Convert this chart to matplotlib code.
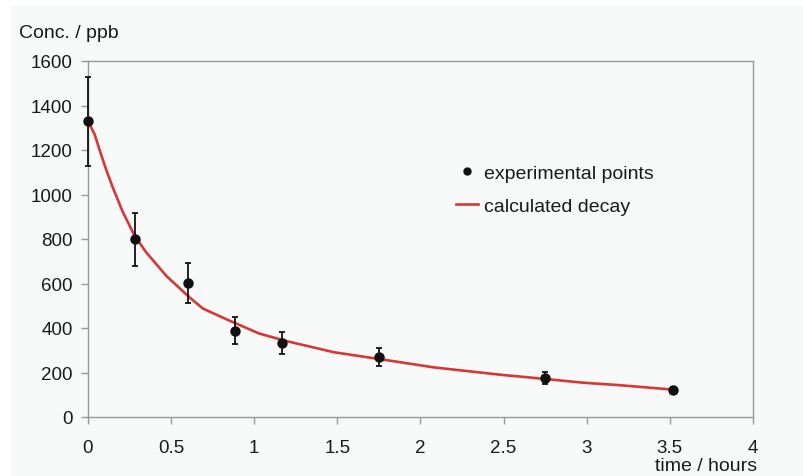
import numpy as np
import matplotlib.pyplot as plt
from matplotlib.patches import Rectangle

plt.rcParams['font.family'] = ['Liberation Sans', 'DejaVu Sans']

# measured points (time in hours, concentration in ppb)
t_exp = [0.0, 0.285, 0.60, 0.885, 1.165, 1.75, 2.75, 3.52]
c_exp = [1330, 798, 601, 388, 331, 268, 175, 121]
c_err = [200, 120, 90, 60, 50, 40, 27, 12]

# calculated decay curve
t_calc = [0.0, 0.04, 0.07, 0.11, 0.15, 0.21, 0.28, 0.35, 0.47, 0.61, 0.69, 0.83, 1.03,
          1.2, 1.48, 1.88, 2.08, 2.48, 2.75, 2.98, 3.18, 3.52]
c_calc = [1330, 1270, 1200, 1110, 1030, 920, 815, 740, 635, 538, 488, 440, 375,
          340, 291, 246, 223, 190, 171, 154, 144, 123]

bg = '#f8fafa'
axcol = '#999999'
txtcol = '#1a1a1a'
fs = 14

fig = plt.figure(figsize=(8.04, 4.77), dpi=100)
fig.patches.append(Rectangle((11/804, 0), 1, 1 - 7/477, transform=fig.transFigure,
                             facecolor=bg, edgecolor='none', zorder=-10))
ax = fig.add_axes([88/804, 59/477, 665/804, 356/477])
ax.set_facecolor(bg)

ax.plot(t_calc, c_calc, color='#d63838', lw=1.9, label='calculated decay', zorder=2)
markers, caps, bars = ax.errorbar(t_exp, c_exp, yerr=c_err, fmt='o', color='#111111',
                                  ms=6.5, elinewidth=1.3, capsize=2.5, capthick=1.3, zorder=3)
for art in [markers, *caps, *bars]:
    art.set_clip_on(False)
ax.plot([], [], 'o', color='#111111', ms=5, label='experimental points')

ax.set_xlim(0, 4)
ax.set_ylim(0, 1600)
ax.set_xticks(np.arange(0, 4.01, 0.5))
ax.set_xticklabels(['0', '0.5', '1', '1.5', '2', '2.5', '3', '3.5', '4'])
ax.set_yticks(np.arange(0, 1601, 200))

for s in ax.spines.values():
    s.set_color(axcol)
    s.set_linewidth(1.0)
ax.tick_params(axis='both', colors=axcol, labelcolor=txtcol, labelsize=13.5,
               length=5, width=1.0, direction='out')
ax.tick_params(axis='x', pad=11)
ax.tick_params(axis='y', pad=6)

fig.text(19/804, 1 - 33/477, 'Conc. / ppb', fontsize=fs, color=txtcol,
         ha='left', va='center')
fig.text(757/804, 1 - 467/477, 'time / hours', fontsize=fs, color=txtcol,
         ha='right', va='center')

h, l = ax.get_legend_handles_labels()
ax.legend(h[::-1], l[::-1], loc='upper left', bbox_to_anchor=(456/804, 1 - 165/477),
          bbox_transform=fig.transFigure, frameon=False, fontsize=fs,
          handlelength=1.15, handletextpad=0.3, labelspacing=0.8, borderpad=0,
          borderaxespad=0, labelcolor=txtcol)

fig.savefig('out.png', dpi=100)
